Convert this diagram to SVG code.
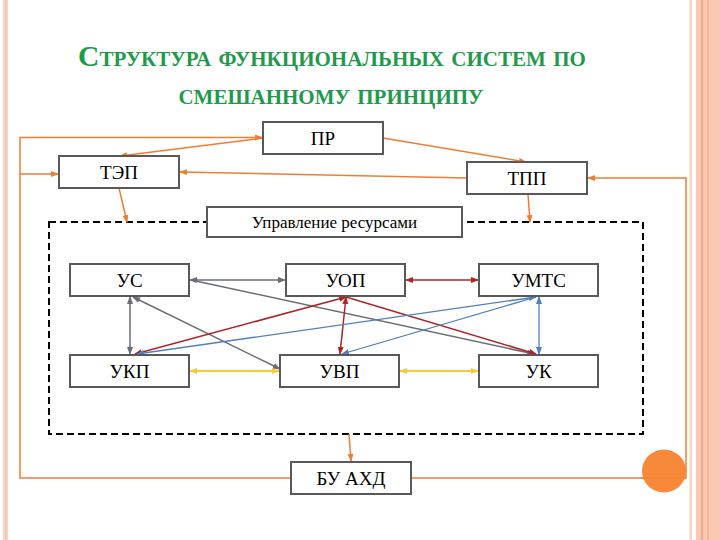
<svg xmlns="http://www.w3.org/2000/svg" width="720" height="540" viewBox="0 0 720 540">
<style>
.box{fill:#fff;stroke:#595959;stroke-width:2}
.ntxt{fill:#000;text-anchor:middle;font-family:'Liberation Serif',serif;font-size:19px;font-weight:normal}
.or{stroke:#EE7D34;stroke-width:1.5;fill:none}
.gr{stroke:#6A6E73;stroke-width:1.5;fill:none}
.rd{stroke:#AE2424;stroke-width:1.5;fill:none}
.bl{stroke:#4F7FC0;stroke-width:1.3;fill:none}
.ye{stroke:#F4CB3A;stroke-width:2;fill:none}
.title{font-weight:bold;fill:#1F9A4C;font-variant:small-caps;text-anchor:middle}
</style>
<defs>
<marker id="aO" markerUnits="userSpaceOnUse" markerWidth="8" markerHeight="6" refX="7" refY="3" orient="auto-start-reverse"><path d="M0,0 L8,3 L0,6 z" fill="#EE7D34"/></marker>
<marker id="aG" markerUnits="userSpaceOnUse" markerWidth="8" markerHeight="6" refX="7" refY="3" orient="auto-start-reverse"><path d="M0,0 L8,3 L0,6 z" fill="#6A6E73"/></marker>
<marker id="aR" markerUnits="userSpaceOnUse" markerWidth="8" markerHeight="6" refX="7" refY="3" orient="auto-start-reverse"><path d="M0,0 L8,3 L0,6 z" fill="#AE2424"/></marker>
<marker id="aB" markerUnits="userSpaceOnUse" markerWidth="8" markerHeight="6" refX="7" refY="3" orient="auto-start-reverse"><path d="M0,0 L8,3 L0,6 z" fill="#4F7FC0"/></marker>
<marker id="aY" markerUnits="userSpaceOnUse" markerWidth="8" markerHeight="6" refX="7" refY="3" orient="auto-start-reverse"><path d="M0,0 L8,3 L0,6 z" fill="#F4CB3A"/></marker>
</defs>
<rect width="720" height="540" fill="#fff"/>
<!-- borders -->
<rect x="3" y="0" width="5" height="540" fill="#FAD3C5"/>
<rect x="5" y="0" width="1.5" height="540" fill="#F7C3AF"/>
<rect x="689.5" y="0" width="2.5" height="540" fill="#F9D5C8"/>
<rect x="696" y="0" width="24" height="540" fill="#FBC8B4"/>
<rect x="701" y="0" width="2" height="540" fill="#F2AC8C"/>
<rect x="707" y="0" width="2" height="540" fill="#F6B99E"/>

<g id="title">
<text class="title" x="332" y="66" font-family="Liberation Serif, serif" font-size="29.5">Структура функциональных систем по</text>
<text class="title" x="331" y="104" font-family="Liberation Serif, serif" font-size="29.5">смешанному принципу</text>
</g>

<rect id="resource-area" x="49" y="222" width="594" height="212" fill="none" stroke="#000" stroke-width="2" stroke-dasharray="7,4"/>

<g id="connectors">
<polyline class="or" points="291,478 20,478 20,137.5 262,137.5" marker-end="url(#aO)"/>
<line class="or" x1="20" y1="174" x2="58" y2="174" marker-end="url(#aO)"/>
<polyline class="or" points="411,478 686,478 686,178 588,178" marker-end="url(#aO)"/>
<line class="or" x1="263" y1="138" x2="120" y2="156" marker-end="url(#aO)"/>
<line class="or" x1="383" y1="138" x2="526" y2="162" marker-end="url(#aO)"/>
<line class="or" x1="467" y1="178" x2="180" y2="172" marker-end="url(#aO)"/>
<line class="or" x1="119" y1="188" x2="127" y2="222" marker-end="url(#aO)"/>
<line class="or" x1="528" y1="194" x2="530" y2="222" marker-end="url(#aO)"/>
<line class="or" x1="349" y1="434" x2="351" y2="461" marker-end="url(#aO)"/>
<line class="gr" x1="190" y1="280" x2="285" y2="280" marker-start="url(#aG)" marker-end="url(#aG)"/>
<line class="gr" x1="130" y1="297" x2="130" y2="354" marker-start="url(#aG)" marker-end="url(#aG)"/>
<line class="gr" x1="133" y1="297" x2="280" y2="369" marker-start="url(#aG)" marker-end="url(#aG)"/>
<line class="gr" x1="191" y1="280" x2="534" y2="354" marker-end="url(#aG)"/>
<line class="rd" x1="406" y1="280" x2="478" y2="280" marker-start="url(#aR)" marker-end="url(#aR)"/>
<line class="rd" x1="135" y1="354" x2="346" y2="297" marker-start="url(#aR)" marker-end="url(#aR)"/>
<line class="rd" x1="346" y1="297" x2="340" y2="354" marker-start="url(#aR)" marker-end="url(#aR)"/>
<line class="rd" x1="346" y1="297" x2="536" y2="354" marker-end="url(#aR)"/>
<line class="bl" x1="536" y1="297" x2="137" y2="354" marker-start="url(#aB)" marker-end="url(#aB)"/>
<line class="bl" x1="536" y1="297" x2="342" y2="354" marker-end="url(#aB)"/>
<line class="bl" x1="539" y1="297" x2="539" y2="354" marker-start="url(#aB)" marker-end="url(#aB)"/>
<line class="ye" x1="190" y1="371" x2="279" y2="371" marker-start="url(#aY)" marker-end="url(#aY)"/>
<line class="ye" x1="400" y1="371" x2="478" y2="371" marker-start="url(#aY)" marker-end="url(#aY)"/>
</g>

<g id="PR"><rect class="box" x="263" y="122" width="120" height="32"/><text class="ntxt" x="323" y="145">ПР</text></g>
<g id="TEP"><rect class="box" x="59" y="156" width="120" height="32"/><text class="ntxt" x="119" y="179">ТЭП</text></g>
<g id="TPP"><rect class="box" x="467" y="162" width="120" height="32"/><text class="ntxt" x="527" y="185">ТПП</text></g>
<g id="resources"><rect class="box" x="207" y="207" width="255" height="30"/><text class="ntxt" x="334.5" y="228" style="font-size:17px">Управление ресурсами</text></g>
<g id="US"><rect class="box" x="70" y="264" width="119" height="32"/><text class="ntxt" x="129.5" y="287">УС</text></g>
<g id="UOP"><rect class="box" x="286" y="264" width="119" height="32"/><text class="ntxt" x="345.5" y="287">УОП</text></g>
<g id="UMTS"><rect class="box" x="479" y="264" width="119" height="32"/><text class="ntxt" x="538.5" y="287">УМТС</text></g>
<g id="UKP"><rect class="box" x="70" y="355" width="119" height="32"/><text class="ntxt" x="129.5" y="378">УКП</text></g>
<g id="UVP"><rect class="box" x="280" y="355" width="119" height="32"/><text class="ntxt" x="339.5" y="378">УВП</text></g>
<g id="UK"><rect class="box" x="479" y="355" width="119" height="32"/><text class="ntxt" x="538.5" y="378">УК</text></g>
<g id="BUAHD"><rect class="box" x="291" y="462" width="120" height="32"/><text class="ntxt" x="351" y="485">БУ АХД</text></g>

<ellipse cx="664" cy="471" rx="22" ry="21.5" fill="#F8883A"/>
<line x1="640" y1="478" x2="686" y2="478" stroke="#EE7D34" stroke-width="1.2" opacity="0.6"/>
</svg>
